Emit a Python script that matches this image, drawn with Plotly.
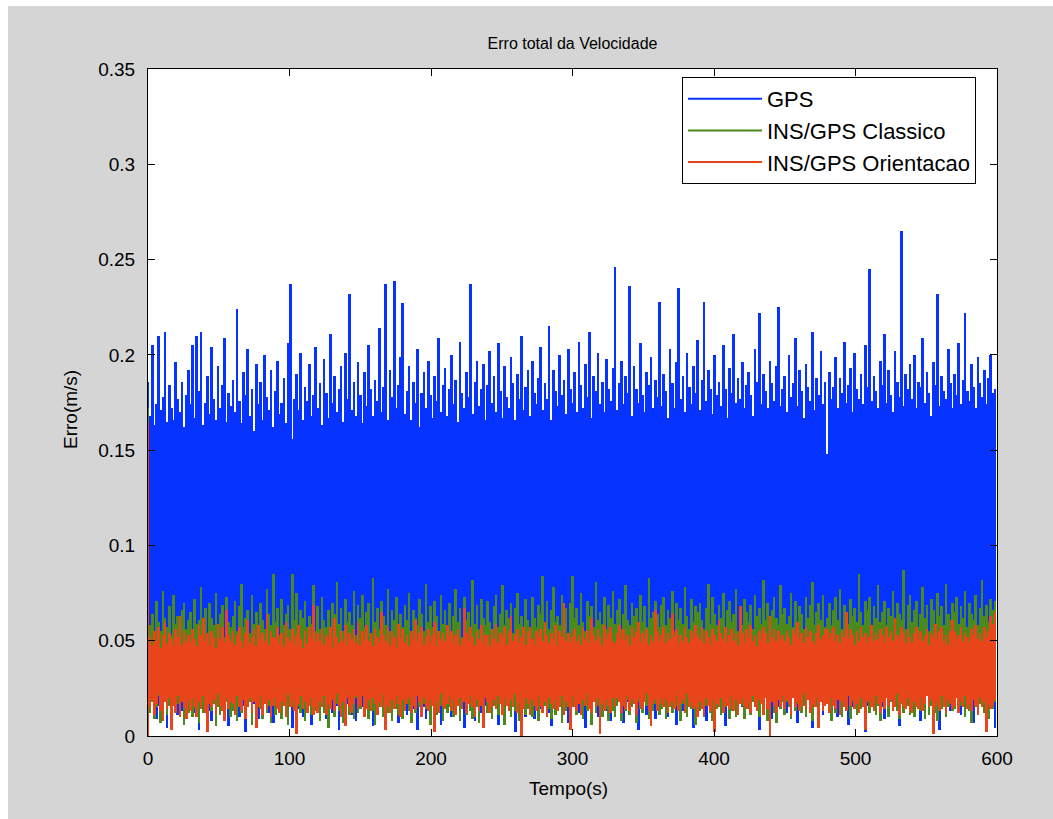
import plotly.graph_objects as go

# ---------------- data (values in thousandths of m/s, read per 1.5 s bin) ----------------
bin_step = 1.5  # seconds per bin
series_names = ["GPS", "INS/GPS Classico", "INS/GPS Orientacao"]
x_ticks = [0, 100, 200, 300, 400, 500, 600]
x_tick_text = ["0", "100", "200", "300", "400", "500", "600"]
y_ticks = [0, 0.05, 0.1, 0.15, 0.2, 0.25, 0.3, 0.35]
y_tick_text = ["0", "0.05", "0.1", "0.15", "0.2", "0.25", "0.3", "0.35"]

gps_upper = [
    186,168,205,163,174,210,171,178,212,165,184,172,166,196,177,170,186,162,179,192,
    174,205,167,210,181,212,163,175,189,169,204,177,166,194,172,184,209,165,180,173,
    187,170,224,176,164,191,179,203,168,182,160,195,174,186,166,200,178,171,192,162,
    181,197,169,175,188,164,206,237,156,177,190,171,201,166,183,176,195,168,179,204,
    172,185,163,198,180,167,211,175,189,170,182,194,165,201,177,232,171,186,168,196,
    179,164,191,173,205,182,168,187,176,214,170,183,237,166,192,178,239,172,184,199,
    227,169,181,194,166,186,175,203,162,180,191,172,197,179,167,189,176,209,170,184,
    193,168,182,200,174,187,165,207,180,172,191,178,237,169,186,197,173,182,195,166,
    184,202,175,189,170,206,181,167,194,178,172,199,185,166,190,177,210,171,183,192,
    168,197,180,174,188,204,171,185,177,215,166,192,181,173,200,179,187,169,203,182,
    175,191,170,207,184,172,195,178,212,167,189,181,201,174,186,170,198,182,176,193,
    246,171,185,197,174,189,180,236,168,194,182,175,206,179,170,191,184,199,172,187,
    178,228,173,190,181,167,203,185,172,196,235,177,189,170,201,183,174,194,180,208,
    171,187,228,176,192,182,169,200,179,186,173,205,182,167,193,180,211,175,188,177,
    196,172,184,191,179,168,203,186,222,174,190,181,172,197,185,176,194,225,173,182,
    189,170,200,178,185,209,173,192,181,167,195,183,176,212,171,188,179,202,174,186,
    148,191,177,183,199,172,188,180,207,175,184,193,170,201,182,177,190,174,205,183,
    245,176,189,181,172,197,184,211,175,192,179,170,202,186,178,265,173,190,182,195,
    177,200,172,186,183,209,175,191,180,168,196,184,232,173,189,181,177,203,185,172,
    190,179,206,174,187,222,181,176,195,183,172,199,185,178,192,174,188,200,180,182,
]
gps_lower = [
    0,14,18,22,9,16,25,12,19,4,21,15,17,24,11,20,13,6,23,18,
    16,21,12,19,3,24,15,18,22,13,8,20,17,25,14,19,11,22,5,16,
    23,14,18,10,21,16,2,19,24,13,17,20,9,22,15,18,25,12,20,7,
    17,22,13,19,24,11,16,21,4,18,23,14,20,10,25,15,19,6,22,17,
    13,20,24,15,9,21,18,12,23,16,3,19,22,14,17,25,11,20,8,18,
    21,15,19,23,12,17,5,22,14,20,18,24,10,16,21,13,19,25,7,15,
    19,24,11,17,22,14,20,3,18,23,15,9,21,16,19,12,24,18,6,20,
    14,18,23,10,20,16,25,13,19,4,22,17,15,21,8,18,24,12,20,16,
    22,13,17,24,15,6,19,21,11,18,23,16,20,2,14,22,17,25,10,19,
    16,21,9,18,23,14,20,17,25,12,5,19,22,15,18,24,11,20,7,17,
    20,15,22,12,18,24,4,17,21,14,19,23,10,16,22,18,13,25,8,19,
    13,19,24,16,7,21,18,14,22,17,20,3,15,23,19,11,24,16,21,9,
    18,22,14,20,25,10,17,23,15,6,19,21,13,24,18,16,22,4,20,15,
    21,16,19,8,23,17,14,22,18,25,12,20,5,16,21,19,24,13,17,22,
    15,23,17,21,11,19,24,16,3,20,18,22,14,25,9,17,21,15,23,18,
    19,12,22,18,24,15,7,20,17,23,13,21,19,4,16,22,18,25,11,20,
    23,17,14,21,19,10,22,16,24,18,6,20,15,23,17,12,21,19,2,16,
    17,21,24,13,18,22,15,9,20,17,23,14,19,25,5,18,22,16,21,12,
    20,14,19,23,8,17,21,24,15,18,12,22,16,3,20,24,17,19,13,21,
    16,22,18,11,24,19,14,21,17,7,23,16,20,15,22,10,18,24,19,4,
]
classico_upper = [
    172,58,64,52,71,60,55,76,62,57,68,53,74,59,63,51,66,70,56,61,
    65,54,72,59,61,78,56,67,53,70,62,58,75,55,64,69,52,73,60,57,
    63,71,55,68,80,57,62,66,54,74,59,65,51,70,61,56,77,64,58,85,
    60,67,53,72,58,64,69,56,85,61,75,54,66,62,71,57,63,59,79,55,
    68,56,73,61,57,66,52,70,64,81,59,67,55,72,60,65,58,76,53,69,
    62,74,57,65,70,54,83,60,67,56,71,63,58,77,55,66,61,73,59,64,
    57,69,61,75,53,66,62,58,72,64,55,80,60,68,57,71,63,54,74,59,
    66,58,70,55,63,77,60,67,52,73,61,65,57,82,59,69,56,72,62,58,
    71,60,55,68,74,57,64,79,58,66,62,70,54,67,75,59,63,56,72,61,
    55,73,62,57,69,64,84,59,71,56,66,78,60,63,58,74,61,67,53,70,
    84,62,67,58,75,60,55,71,63,68,57,81,61,65,59,73,56,69,62,76,
    59,66,72,56,64,79,61,58,70,63,67,55,74,60,68,57,83,62,65,71,
    64,57,69,73,58,66,62,76,55,70,61,67,59,78,63,56,72,60,68,65,
    70,61,56,67,80,59,73,64,58,69,62,75,57,66,71,60,64,77,55,68,
    58,72,65,60,69,56,74,63,67,59,82,61,70,57,66,73,62,58,79,64,
    67,59,63,75,57,71,60,68,64,56,73,62,69,81,58,65,70,61,74,57,
    62,70,58,66,73,61,77,56,69,64,59,72,63,67,60,85,65,58,71,66,
    73,57,68,62,79,60,65,71,58,67,63,76,59,70,64,61,87,56,69,74,
    60,66,71,57,64,78,62,69,55,72,66,59,75,63,68,58,80,64,61,70,
    65,73,59,68,62,76,57,70,64,61,74,58,67,82,63,69,60,72,66,71,
]
classico_lower = [
    5,12,18,9,15,21,7,14,19,11,16,8,22,13,17,10,20,6,15,12,
    18,10,14,20,7,16,12,19,9,22,13,17,5,15,11,21,8,18,14,10,
    13,19,8,16,12,21,10,15,18,6,20,11,17,14,9,22,12,16,7,19,
    11,17,14,9,20,13,6,18,15,21,10,16,12,19,8,14,22,11,17,13,
    20,8,16,12,18,4,15,21,10,17,13,19,7,14,22,11,16,9,20,12,
    14,21,11,17,9,19,13,6,18,15,20,10,16,12,22,8,17,14,11,19,
    9,16,20,13,7,18,12,22,15,10,17,14,19,6,21,13,11,18,16,8,
    17,12,15,21,10,14,19,8,16,22,11,18,13,9,20,15,7,17,12,21,
    12,20,9,16,19,11,17,14,6,21,15,10,18,13,22,8,16,19,11,14,
    19,10,17,13,8,20,12,16,22,14,9,18,11,21,15,7,19,13,17,10,
    15,18,11,20,14,9,21,13,17,6,19,12,16,22,10,18,14,8,20,13,
    10,16,21,8,17,13,19,11,15,20,7,18,14,12,22,16,9,19,13,17,
    21,11,14,18,9,20,15,12,19,16,22,8,17,13,10,21,14,18,6,15,
    13,19,10,16,21,12,8,18,14,20,11,17,15,22,9,13,19,10,16,20,
    16,9,20,14,11,18,22,15,10,17,13,21,8,16,19,12,7,20,14,18,
    11,18,15,9,20,13,17,21,12,16,10,19,14,8,22,15,11,18,13,17,
    20,14,8,17,12,21,16,10,19,13,22,9,18,15,11,20,14,17,7,19,
    12,17,21,11,16,8,19,14,20,10,18,15,22,13,9,17,12,21,16,11,
    18,10,15,20,13,17,9,22,11,16,21,12,8,19,14,18,10,15,20,13,
    14,21,12,16,19,10,18,13,7,20,15,11,17,22,12,16,9,19,14,18,
]
orient_upper = [
    165,52,48,55,50,57,46,53,60,49,54,51,47,56,52,63,48,55,50,53,
    49,56,51,47,58,53,62,50,54,48,55,52,46,59,51,57,49,66,53,50,
    55,48,53,57,50,46,54,61,49,52,56,47,58,51,54,50,64,48,55,52,
    51,57,49,54,47,60,52,50,56,48,53,58,51,46,55,49,57,52,69,50,
    54,50,56,48,53,51,57,46,62,52,49,55,50,58,47,54,51,56,49,60,
    48,55,51,58,50,54,47,56,52,49,65,53,50,57,48,55,52,46,59,51,
    56,49,53,47,55,51,61,50,54,57,48,52,56,49,53,60,47,55,51,54,
    50,58,52,55,49,53,56,48,51,67,54,50,57,52,48,55,51,58,49,53,
    53,47,56,51,59,49,54,52,57,48,55,63,50,53,56,49,52,57,48,55,
    57,51,48,55,52,56,50,60,53,49,54,51,58,47,55,52,70,50,54,49,
    52,56,50,53,48,57,51,55,49,62,53,50,56,52,48,58,51,54,57,50,
    49,54,58,51,56,50,53,48,57,52,55,60,49,54,51,56,48,53,50,66,
    55,50,53,57,49,54,51,64,52,56,48,53,50,57,52,49,55,51,58,53,
    51,57,49,55,52,48,56,53,50,61,54,51,57,49,53,56,50,54,48,68,
    54,49,56,52,58,50,53,47,55,51,57,54,49,63,52,56,50,55,51,53,
    50,55,52,48,56,53,60,51,54,49,57,52,55,50,48,54,58,51,53,56,
    56,51,54,57,50,53,49,55,52,65,51,56,53,48,55,50,57,52,54,49,
    52,58,50,54,51,56,53,49,57,52,55,50,62,53,51,57,54,49,56,52,
    49,54,57,51,55,50,53,56,48,54,52,59,51,55,57,50,53,48,55,61,
    55,51,53,57,50,54,52,49,56,53,58,51,54,50,57,52,55,63,59,65,
]
orient_lower = [
    0,15,19,11,17,22,13,8,18,14,20,3,16,12,21,10,18,15,9,19,
    13,20,16,10,18,14,21,12,2,17,15,19,11,22,16,13,8,20,14,18,
    17,11,21,15,13,19,9,16,20,12,18,4,15,21,11,17,14,19,10,16,
    20,14,12,18,16,10,22,15,19,13,1,17,21,14,18,12,16,20,11,15,
    12,18,15,21,11,17,14,19,13,22,16,10,18,5,20,15,12,17,21,14,
    16,21,10,14,19,13,20,17,11,18,15,22,3,16,12,19,14,21,17,10,
    19,13,17,20,12,16,14,21,18,10,20,15,13,19,16,2,18,12,22,15,
    14,17,21,13,19,11,16,20,14,18,12,17,21,15,10,19,13,16,4,20,
    18,12,15,19,14,21,17,11,20,16,13,19,15,22,12,18,0,14,20,17,
    11,19,16,13,21,15,12,18,10,20,17,14,19,13,16,21,11,18,15,3,
    21,15,13,17,11,19,16,22,14,12,18,15,20,1,17,13,19,16,12,20,
    15,20,18,12,16,14,21,13,19,17,11,20,16,14,18,22,13,5,17,19,
    13,17,20,15,19,12,16,18,14,21,13,17,19,12,22,15,18,14,16,10,
    18,14,11,20,16,13,19,2,17,15,20,12,18,16,14,21,13,19,11,17,
    20,16,14,18,12,21,15,13,19,17,11,20,14,0,18,16,12,19,15,21,
    14,19,17,11,20,15,18,13,16,22,14,19,12,17,15,20,4,18,13,16,
    17,12,20,16,14,19,11,18,15,13,21,16,19,14,17,12,20,15,3,18,
    19,15,13,21,17,12,18,14,20,16,19,13,15,22,11,18,16,14,20,13,
    12,18,16,14,20,13,17,21,15,19,1,16,18,13,21,15,12,19,17,14,
    16,20,12,18,15,21,14,17,13,19,16,11,20,15,18,2,17,14,16,19,
]

colors = ["#0633ff", "#4a8a1c", "#e8461a"]
bands = [(gps_lower, gps_upper), (classico_lower, classico_upper), (orient_lower, orient_upper)]

time_axis = [i * bin_step for i in range(len(gps_upper))]

fig = go.Figure()
for (lo, hi), col in zip(bands, colors):
    fig.add_trace(go.Bar(
        x=time_axis,
        base=[v / 1000.0 for v in lo],
        y=[(h - l) / 1000.0 for l, h in zip(lo, hi)],
        width=bin_step * 1.25,
        marker=dict(color=col, line=dict(width=0)),
        showlegend=False, hoverinfo="skip"))

for name, col in zip(series_names, colors):
    fig.add_trace(go.Scatter(x=[None], y=[None], mode="lines", name=name,
                             line=dict(color=col, width=2), legendgroup=name))

tick_font = dict(family="Liberation Sans, Arial, sans-serif", size=19, color="black")
axis_common = dict(ticks="inside", ticklen=7, tickwidth=1, tickcolor="black",
                   showline=True, linecolor="black", linewidth=1, mirror="ticks",
                   showgrid=False, zeroline=False, tickfont=tick_font)

PLOT_L, PLOT_R, PLOT_T, PLOT_B = 148, 997, 69, 736
W, H = 1053, 819
pw, ph = PLOT_R - PLOT_L, PLOT_B - PLOT_T

fig.update_layout(
    width=W, height=H,
    margin=dict(l=PLOT_L, r=W - PLOT_R, t=PLOT_T, b=H - PLOT_B, pad=0),
    paper_bgcolor="#d5d5d5", plot_bgcolor="white",
    hovermode=False, barmode="overlay", bargap=0,
    title=dict(text="Erro total da Velocidade", x=0.5, xref="paper", y=1 - 43 / H, yref="container",
               xanchor="center", yanchor="middle",
               font=dict(family="Liberation Sans Narrow, Liberation Sans, Arial", size=16, color="black")),
    xaxis=dict(range=[0, 600], tickvals=x_ticks, ticktext=x_tick_text, ticklabelstandoff=5, **axis_common),
    yaxis=dict(range=[0, 0.35], tickvals=y_ticks, ticktext=y_tick_text, ticklabelstandoff=8, **axis_common),
    legend=dict(x=(682 - PLOT_L) / pw, y=(PLOT_B - 77) / ph, xanchor="left", yanchor="top",
                bgcolor="white", bordercolor="black", borderwidth=1,
                font=dict(family="Liberation Sans, Arial", size=22, color="black"),
                itemwidth=74, tracegroupgap=0, traceorder="grouped"),
    annotations=[
        dict(text="Tempo(s)", xref="paper", yref="paper", x=(568 - PLOT_L) / pw, y=(PLOT_B - 788) / ph,
             showarrow=False, xanchor="center", yanchor="middle",
             font=dict(family="Liberation Sans, Arial", size=19, color="black")),
        dict(text="Erro(m/s)", xref="paper", yref="paper", x=(70 - PLOT_L) / pw, y=(PLOT_B - 410) / ph,
             showarrow=False, xanchor="center", yanchor="middle", textangle=-90,
             font=dict(family="Liberation Sans, Arial", size=19, color="black")),
    ],
    shapes=[
        dict(type="rect", xref="paper", yref="paper", layer="below",
             x0=(0 - PLOT_L) / pw - 0.01, x1=(8 - PLOT_L) / pw, y0=(PLOT_B - H) / ph - 0.01,
             y1=PLOT_B / ph + 0.01, fillcolor="white", line=dict(width=0)),
        dict(type="rect", xref="paper", yref="paper", layer="below",
             x0=(0 - PLOT_L) / pw - 0.01, x1=(W - PLOT_L) / pw + 0.01, y0=(PLOT_B - 6) / ph,
             y1=PLOT_B / ph + 0.01, fillcolor="white", line=dict(width=0)),
    ],
)

fig.write_html("out.html")
